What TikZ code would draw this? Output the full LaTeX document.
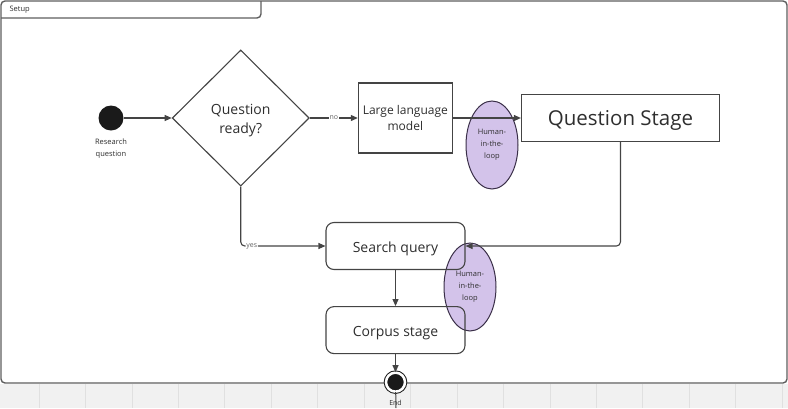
\documentclass[tikz,border=0pt]{standalone}
\usepackage{fontspec}
\setmainfont{Open Sans}
\usepackage{tikz}
\usetikzlibrary{positioning,arrows.meta,shapes.geometric}
\usepackage{xcolor}
\definecolor{lngray}{HTML}{444444}
\definecolor{txtgray}{HTML}{2E2E2E}
\definecolor{framegray}{HTML}{5E5E5E}
\definecolor{gridgray}{HTML}{F1F1F1}
\definecolor{hitlpurple}{HTML}{D3C3EA}
\definecolor{hitledge}{HTML}{3A2F48}
\definecolor{dotblack}{HTML}{1A1A1A}

\begin{document}
\begin{tikzpicture}[
    x=1pt, y=-1pt,
    stagebox/.style={rectangle, draw=lngray, line width=1.1pt, text=txtgray, align=center, inner sep=2pt},
    roundbox/.style={stagebox, rounded corners=8pt, minimum width=139pt, minimum height=47pt, text height=12.6pt, text depth=0pt, font=\fontsize{14}{16}\selectfont},
    hitl/.style={ellipse, draw=hitledge, fill=hitlpurple, line width=1pt, minimum width=52pt, minimum height=88pt, inner sep=0pt, align=center, text=txtgray, font=\fontsize{7.5}{12}\selectfont},
    arrow/.style={-{Triangle[length=7pt, width=6pt]}, line width=1.1pt, draw=lngray},
    tag/.style={font=\fontsize{7}{12}\selectfont, text=txtgray!75, fill=white, inner sep=1pt, align=center},
    frameline/.style={draw=framegray, line width=1.4pt},
]
\useasboundingbox (0,0) rectangle (788,408);

% Canvas grid below the frame
\fill[gridgray] (0,384) rectangle (788,408);
\foreach \gx in {0,...,16}
    \draw[black!12, line width=0.8pt] (39+46.45*\gx,384) -- ++(0,24);

% Setup frame
\draw[frameline, rounded corners=4pt] (1,1) rectangle (787,383);
\draw[frameline, rounded corners=4pt] (1,18) -| (261,1);
\node[anchor=west, font=\fontsize{7.5}{8}\selectfont, text=txtgray] (setup) at (6,10) {Setup};

% Human-in-the-loop markers (behind boxes)
\node[hitl] (hitl_top) at (492,145) {Human-\\in-the-\\loop};
\node[hitl] (hitl_bot) at (470,287) {Human-\\in-the-\\loop};

% Start
\node[circle, fill=dotblack, minimum size=25pt, inner sep=0pt] (start) at (111,118) {};
\node[tag, text=txtgray, font=\fontsize{7.5}{12}\selectfont, below=7pt of start] (start_lbl) {Research\\question};

% Decision and stages
\node[diamond, draw=lngray, line width=1.1pt, aspect=1, minimum width=137pt, minimum height=136pt, inner sep=0pt, right=48pt of start] (ready) {};
\node[align=center, text=txtgray, font=\fontsize{14}{19}\selectfont] (ready_txt) at ([yshift=-3pt]ready.center) {Question\\ready?};
\node[stagebox, minimum width=94pt, minimum height=70pt, font=\fontsize{12}{16}\selectfont, right=48pt of ready] (llm) {Large language\\model};
\node[stagebox, minimum width=198pt, minimum height=47pt, text height=15.7pt, text depth=0pt, font=\fontsize{20.5}{22}\selectfont, right=68pt of llm] (stage) {Question Stage};
\node[roundbox] (search) at (395.5,246) {Search query};
\node[roundbox, below=36pt of search] (corpus) {Corpus stage};

% End
\node[circle, fill=dotblack, draw=dotblack, double=white, double distance=2.5pt, line width=1pt, minimum size=19pt, inner sep=0pt, below=18pt of corpus] (end) {};
\coordinate (end_tail) at (396,408);
\draw[lngray, line width=1pt] (end) -- (end_tail);
\node[tag, fill=none, text=txtgray, below=7pt of end] (end_lbl) {End};

% Arrows
\draw[arrow] (start) -- (ready);
\draw[arrow] (ready) -- node[tag] {no} (llm);
\draw[arrow] (llm) -- (stage);
\draw[arrow, rounded corners=4pt] (ready.south) |- node[tag, pos=0.565] {yes} (search.west);
\draw[arrow, rounded corners=4pt] (stage.south) |- (search.east);
\draw[arrow] (search) -- (corpus);
\draw[arrow] (corpus) -- (end);

\end{tikzpicture}
\end{document}
